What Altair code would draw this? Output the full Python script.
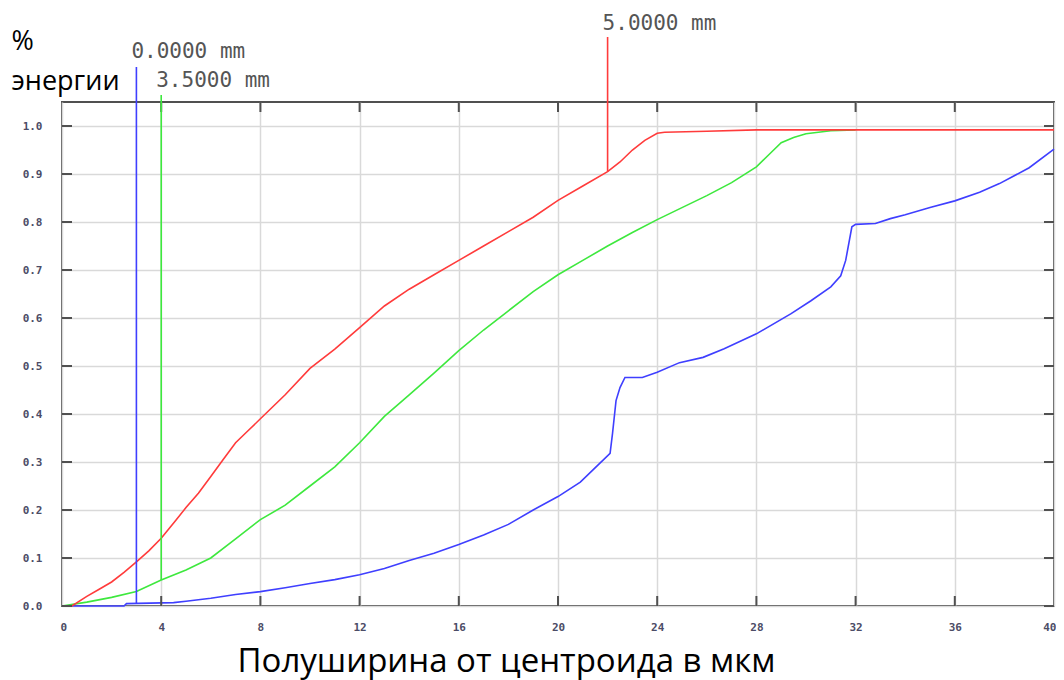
import altair as alt
import pandas as pd

# ---- data ----
red_x = [0, 0.4, 1, 1.5, 2, 2.5, 3, 3.5, 4, 4.6, 5, 5.5, 6, 6.5, 7, 7.5, 8, 9, 10, 11, 12, 13, 14, 15,
         16, 17, 18, 19, 20, 21, 22, 22.5, 23, 23.5, 24, 24.3, 26, 28, 32, 36, 40]
red_y = [0, 0, 0.02, 0.035, 0.05, 0.07, 0.092, 0.115, 0.141, 0.179, 0.205, 0.235, 0.27, 0.305, 0.34,
         0.365, 0.39, 0.44, 0.495, 0.535, 0.58, 0.625, 0.66, 0.69, 0.72, 0.75, 0.78, 0.81, 0.845, 0.875,
         0.905, 0.925, 0.95, 0.97, 0.985, 0.987, 0.989, 0.992, 0.992, 0.992, 0.992]

green_x = [0, 1, 2, 3, 4, 5, 6, 7, 8, 9, 10, 11, 12, 13, 14, 15, 16, 17, 18, 19, 20, 21, 22, 23, 24,
           25, 26, 27, 28, 28.5, 29, 29.5, 30, 31, 32]
green_y = [0, 0.008, 0.018, 0.03, 0.054, 0.075, 0.1, 0.14, 0.18, 0.21, 0.25, 0.29, 0.34, 0.395, 0.44,
           0.485, 0.532, 0.575, 0.615, 0.655, 0.69, 0.72, 0.75, 0.778, 0.805, 0.83, 0.855, 0.882, 0.915,
           0.94, 0.965, 0.976, 0.984, 0.99, 0.992]

blue_x = [0, 2.5, 2.6, 4.5, 5, 6, 7, 8, 9, 10, 11, 12, 13, 14, 15, 16, 17, 18, 19, 20, 20.9, 21.4,
          22.1, 22.2, 22.34, 22.5, 22.7, 23.4, 24, 24.9, 25.85, 26.7, 28, 29.4, 30.2, 31, 31.4, 31.6,
          31.85, 32, 32.8, 33.4, 34, 35, 36, 37, 37.8, 39, 40]
blue_y = [0, 0, 0.005, 0.007, 0.01, 0.016, 0.024, 0.03, 0.038, 0.047, 0.055, 0.065, 0.078, 0.095, 0.11,
          0.128, 0.148, 0.17, 0.2, 0.228, 0.258, 0.283, 0.318, 0.36, 0.428, 0.455, 0.476, 0.476, 0.487,
          0.507, 0.518, 0.536, 0.567, 0.609, 0.636, 0.665, 0.688, 0.72, 0.79, 0.795, 0.797, 0.807, 0.815,
          0.83, 0.844, 0.862, 0.88, 0.913, 0.952]

series_names = ["0.0000 mm", "3.5000 mm", "5.0000 mm"]
series_colors = ["#3f3fff", "#3ee83e", "#ff3b3b"]

marker_x = [3, 4, 22]
marker_y = [0.005, 0.054, 0.905]

x_ticks = [0, 4, 8, 12, 16, 20, 24, 28, 32, 36, 40]
y_ticks = [0.0, 0.1, 0.2, 0.3, 0.4, 0.5, 0.6, 0.7, 0.8, 0.9, 1.0]

x_title = "Полуширина от центроида в мкм"
y_title = ["%", "энергии"]

# ---- build tables ----
rows = []
for name, xs, ys in [(series_names[0], blue_x, blue_y),
                     (series_names[1], green_x, green_y),
                     (series_names[2], red_x, red_y)]:
    for i, (a, b) in enumerate(zip(xs, ys)):
        rows.append({"series": name, "x": a, "y": b, "i": i})
df = pd.DataFrame(rows)

W, H = 992, 504
color_scale = alt.Scale(domain=series_names, range=series_colors)
xscale = alt.Scale(domain=[0, 40], nice=False, zero=False)
yscale = alt.Scale(domain=[0, 1.05], nice=False)
LABEL_FONT = "DejaVu Sans Mono"
LABEL_COLOR = "#4c4c66"
FRAME = "#505050"

x_axis = alt.Axis(
    values=x_ticks, grid=True, gridColor="#d9d9d9", gridWidth=1.5, ticks=False, domain=False,
    labelFont=LABEL_FONT, labelFontSize=11, labelFontWeight="bold", labelColor=LABEL_COLOR,
    labelPadding=15, labelFlush=True, labelFlushOffset=2, format="d",
    title=x_title, titleFont="Open Sans", titleFontSize=33, titleFontWeight="normal",
    titleColor="#000000", titleAlign="left", titleBaseline="alphabetic", titleX=175, titleY=65)
y_axis = alt.Axis(
    values=y_ticks, grid=True, gridColor="#d9d9d9", gridWidth=1.5, ticks=False, domain=False,
    labelFont=LABEL_FONT, labelFontSize=11, labelFontWeight="bold", labelColor=LABEL_COLOR,
    labelPadding=20, format=".1f",
    title=y_title, titleFont="Open Sans", titleFontSize=27, titleFontWeight="normal",
    titleColor="#000000", titleAngle=0, titleAlign="left", titleBaseline="alphabetic",
    titleX=-51, titleY=-53, titleLineHeight=40)

X = lambda: alt.X("x:Q", scale=xscale, axis=x_axis)
Y = lambda: alt.Y("y:Q", scale=yscale, axis=y_axis)

lines = alt.Chart(df).mark_line(strokeWidth=1.6).encode(
    x=X(), y=Y(),
    color=alt.Color("series:N", scale=color_scale, legend=None),
    order="i:Q",
)

xt = pd.DataFrame({"x": x_ticks[1:-1]})
yt = pd.DataFrame({"y": y_ticks})
tick_kw = dict(color=FRAME, strokeWidth=2)
xb = alt.Chart(xt).mark_rule(**tick_kw).encode(x=X(), y=alt.value(H), y2=alt.value(H - 10))
xtop = alt.Chart(xt).mark_rule(**tick_kw).encode(x=X(), y=alt.value(0), y2=alt.value(10))
yl = alt.Chart(yt).mark_rule(**tick_kw).encode(y=Y(), x=alt.value(0), x2=alt.value(10))
yr = alt.Chart(yt).mark_rule(**tick_kw).encode(y=Y(), x=alt.value(W), x2=alt.value(W - 10))

# marker lines with labels (label baseline / line top offsets are styling, in px)
marker_style = [(-44, -35), (-15, -7), (-72, -65)]
marker_layers = []
for k in range(3):
    mdf = pd.DataFrame({"x": [marker_x[k]], "y": [marker_y[k]], "label": [series_names[k]]})
    text_y, top_y = marker_style[k]
    rule = alt.Chart(mdf).mark_rule(color=series_colors[k], strokeWidth=1.6).encode(
        x=X(), y=Y(), y2=alt.value(top_y))
    txt = alt.Chart(mdf).mark_text(align="left", baseline="alphabetic", dx=-5, font=LABEL_FONT,
                                   fontSize=21, color="#555555").encode(
        x=X(), y=alt.value(text_y), text="label:N")
    marker_layers += [rule, txt]

chart = alt.layer(lines, xb, xtop, yl, yr, *marker_layers).properties(
    width=W, height=H,
    autosize=alt.AutoSizeParams(type="none"),
    padding={"left": 54, "top": 94, "right": 2, "bottom": 74},
    background="white",
).configure_view(stroke=FRAME, strokeWidth=2)

chart.save("out.html", embed_options={"renderer": "svg", "actions": False})
